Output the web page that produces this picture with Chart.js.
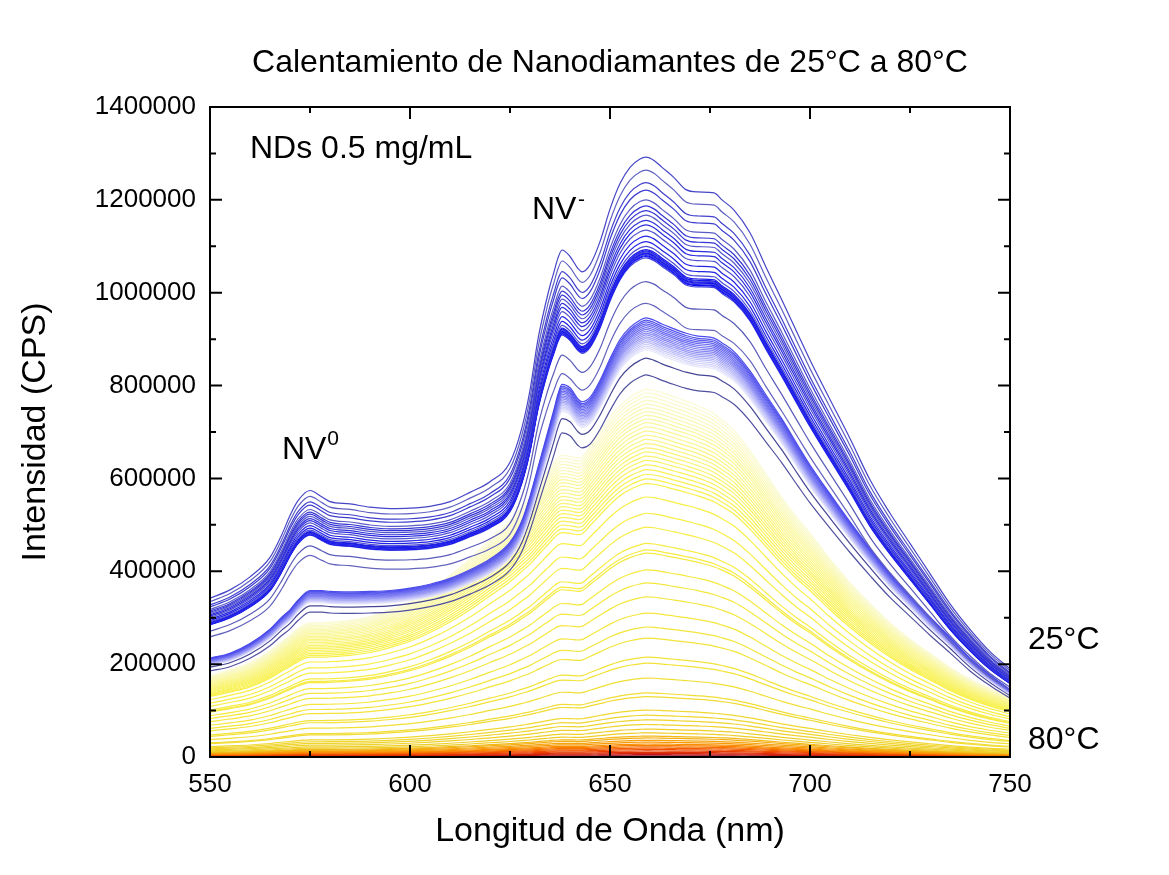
<!DOCTYPE html>
<html lang="es">
<head>
<meta charset="utf-8">
<title>Calentamiento de Nanodiamantes</title>
<script src="https://cdn.jsdelivr.net/npm/chart.js@4.4.1/dist/chart.umd.min.js"></script>
<style>
  html, body { margin: 0; padding: 0; background: #ffffff; }
  canvas { display: block; }
</style>
</head>
<body>
<canvas id="grafico" width="1169" height="875"></canvas>
<script>
// Longitudes de onda (nm) comunes a todos los espectros
const longitudes = [550, 555, 560, 565, 568, 570, 572, 575, 578, 580, 585, 590, 595, 600, 605, 610, 615, 620,
  625, 628, 630, 632, 634, 635, 636, 637, 638, 640, 642, 643, 645, 647.5, 650, 652.5, 655, 657.5, 659, 661,
  663, 666, 669, 672, 676, 678, 681, 685, 689, 693, 697, 700, 705, 710, 715, 720, 725, 730, 735, 740, 745, 750];

// Espectro de referencia de cada familia de curvas (CPS)
const espectroAzul = [342000, 360000, 388000, 430000, 480000, 520000, 552000, 574000, 560000, 550000, 545000,
  538000, 535000, 536000, 540000, 550000, 570000, 593000, 635000, 710000, 790000, 900000, 980000, 1015000,
  1045000, 1075000, 1092000, 1078000, 1052000, 1045000, 1060000, 1110000, 1180000, 1235000, 1270000, 1288000,
  1292000, 1285000, 1270000, 1248000, 1222000, 1217000, 1215000, 1200000, 1178000, 1129000, 1055000, 984000,
  910000, 855000, 770000, 686000, 597000, 525000, 460000, 395000, 330000, 275000, 227000, 190000];

const espectroLavanda = [205000, 215000, 235000, 265000, 290000, 305000, 325000, 345000, 345000, 343000, 342000,
  343000, 345000, 350000, 358000, 370000, 388000, 410000, 445000, 490000, 540000, 600000, 660000, 690000,
  720000, 752000, 772000, 765000, 742000, 736000, 745000, 780000, 825000, 865000, 890000, 905000,
  910000, 905000, 897000, 887000, 878000, 872000, 868000, 858000, 840000, 800000, 750000, 700000,
  645000, 605000, 545000, 487000, 432000, 380000, 335000, 290000, 248000, 205000, 170000, 140000];

const espectroAmarillo = [172000, 185000, 200000, 225000, 245000, 258000, 272000, 285000, 285000, 286000, 290000,
  298000, 312000, 330000, 355000, 385000, 420000, 460000, 500000, 530000, 550000, 575000, 600000, 612000,
  625000, 635000, 640000, 638000, 634000, 636000, 660000, 690000, 720000, 745000, 763000, 775000,
  780000, 778000, 773000, 764000, 755000, 745000, 728000, 715000, 693000, 650000, 600000, 550000,
  505000, 475000, 420000, 370000, 325000, 285000, 250000, 220000, 190000, 165000, 145000, 129000];

// Intensidad en el máximo (~659 nm) de cada medida, de 25°C hacia 80°C
const nivelesAzules = [1292000, 1264000, 1237000, 1221000, 1200000, 1187000, 1177000, 1167000, 1156000, 1146000,
  1135000, 1122000, 1110000, 1100000, 1093000, 1090000, 1088000, 1086000, 1084000, 1082000, 1080000, 1078000, 1075000];
const nivelesMedios = [1024000, 977000];
const nivelesLavanda = [946000, 941000, 937000, 933000, 929000, 925000, 921000, 917000, 913000, 909000,
  905000, 901000, 897000, 893000, 889000, 885000, 881000, 877000];
const nivelesOscuros = [859000, 823000];
const nivelesAmarillos = [792000, 784000, 776000, 768000, 760000, 752000, 744000, 736000, 728000, 720000,
  711000, 702000, 693000, 684000, 675000, 666000, 657000, 648000, 639000, 629000, 619000, 609000, 599000,
  589000, 560000, 525000, 495000, 460000, 446000, 439000, 403000, 375000, 345000, 310000, 280000, 256000,
  215000, 202000, 170000, 138000, 130000, 101000, 90000, 80000, 70000, 60000, 52000];
const nivelesCalientes = [45000, 41000, 36000, 32000, 28000, 25000, 22000, 19000, 16000, 13000, 10000,
  7500, 5000, 2500, 800];

const ticksX = [550, 600, 650, 700, 750];
const ticksMenoresX = [575, 625, 675, 725];
const ticksY = [0, 200000, 400000, 600000, 800000, 1000000, 1200000, 1400000];
const ticksMenoresY = [100000, 300000, 500000, 700000, 900000, 1100000, 1300000];

const fuente = '"Liberation Sans", Arial, Helvetica, sans-serif';

// interpolación de color entre paradas [t, [r,g,b]]
const mezclar = (paradas, t) => {
  for (let i = 1; i < paradas.length; i++) {
    const [t1, c1] = paradas[i];
    const [t0, c0] = paradas[i - 1];
    if (t <= t1) {
      const f = (t - t0) / (t1 - t0 || 1);
      return c0.map((c, k) => Math.round(c + (c1[k] - c) * f));
    }
  }
  return paradas[paradas.length - 1][1];
};

const grupos = [
  { niveles: nivelesAzules, espectro: espectroAzul, variar: true,
    paradas: [[0, [70, 70, 200]], [0.6, [30, 30, 232]], [1, [12, 12, 248]]] },
  { niveles: nivelesMedios, espectro: espectroAzul,
    paradas: [[0, [90, 90, 185]], [1, [100, 100, 190]]] },
  { niveles: nivelesLavanda, espectro: espectroLavanda,
    paradas: [[0, [75, 75, 235]], [0.5, [140, 140, 245]], [1, [232, 232, 252]]] },
  { niveles: nivelesOscuros, espectro: espectroLavanda,
    paradas: [[0, [70, 70, 150]], [1, [80, 80, 160]]] },
  { niveles: nivelesAmarillos, espectro: espectroAmarillo,
    paradas: [[0, [250, 250, 212]], [0.2, [250, 247, 150]], [0.5, [248, 240, 70]], [0.8, [242, 226, 55]], [1, [238, 205, 40]]] },
  { niveles: nivelesCalientes, espectro: espectroAmarillo,
    paradas: [[0, [242, 185, 25]], [0.3, [250, 140, 0]], [0.6, [240, 70, 0]], [0.85, [200, 25, 20]], [1, [80, 20, 130]]] }
];

const datasets = [];
grupos.forEach(g => {
  const pico = Math.max(...g.espectro);
  g.niveles.forEach((nivel, k) => {
    const t = g.niveles.length > 1 ? k / (g.niveles.length - 1) : 0;
    let c = mezclar(g.paradas, t);
    if (g.variar && k % 3 === 1) c = c.map((v, j) => Math.round(v * 0.5 + [125, 125, 190][j] * 0.5));
    datasets.push({
      data: longitudes.map((x, i) => ({ x, y: Math.round(g.espectro[i] * nivel / pico) })),
      borderColor: `rgb(${c[0]}, ${c[1]}, ${c[2]})`,
      borderWidth: 1.2,
      pointRadius: 0,
      cubicInterpolationMode: 'monotone',
      fill: false
    });
  });
});

const marcoYTextos = {
  id: 'marcoYTextos',
  afterDraw(chart) {
    const { ctx, chartArea: a, scales: { x, y } } = chart;
    ctx.save();
    ctx.strokeStyle = '#000';
    ctx.lineWidth = 2;
    ctx.strokeRect(a.left, a.top, a.right - a.left, a.bottom - a.top);

    ctx.beginPath();
    const marcaX = (v, largo) => {
      const px = x.getPixelForValue(v);
      ctx.moveTo(px, a.bottom); ctx.lineTo(px, a.bottom - largo);
      ctx.moveTo(px, a.top); ctx.lineTo(px, a.top + largo);
    };
    const marcaY = (v, largo) => {
      const py = y.getPixelForValue(v);
      ctx.moveTo(a.left, py); ctx.lineTo(a.left + largo, py);
      ctx.moveTo(a.right, py); ctx.lineTo(a.right - largo, py);
    };
    ticksX.forEach(v => marcaX(v, 12));
    ticksMenoresX.forEach(v => marcaX(v, 6));
    ticksY.forEach(v => marcaY(v, 12));
    ticksMenoresY.forEach(v => marcaY(v, 6));
    ctx.stroke();

    ctx.fillStyle = '#000';
    ctx.textBaseline = 'middle';
    ctx.textAlign = 'center';
    ctx.font = `32px ${fuente}`;
    ctx.fillText('Calentamiento de Nanodiamantes de 25°C a 80°C', (a.left + a.right) / 2, 63);

    ctx.textAlign = 'left';
    ctx.fillText('NDs 0.5 mg/mL', x.getPixelForValue(560), y.getPixelForValue(1310000));
    ctx.fillText('NV', x.getPixelForValue(568), y.getPixelForValue(660000));
    ctx.fillText('NV', x.getPixelForValue(630.5), y.getPixelForValue(1177000));
    ctx.fillText('25°C', x.getPixelForValue(754.5), y.getPixelForValue(252000));
    ctx.fillText('80°C', x.getPixelForValue(754.5), y.getPixelForValue(37000));

    ctx.font = `21px ${fuente}`;
    ctx.fillText('0', x.getPixelForValue(579.3), y.getPixelForValue(684000));
    ctx.fillText('-', x.getPixelForValue(642), y.getPixelForValue(1200000));
    ctx.restore();
  }
};

new Chart(document.getElementById('grafico'), {
  type: 'line',
  data: { datasets },
  options: {
    responsive: false,
    animation: false,
    devicePixelRatio: 1,
    layout: { padding: { top: 107, right: 159, bottom: 0, left: 0 } },
    plugins: { legend: { display: false }, tooltip: { enabled: false } },
    scales: {
      x: {
        type: 'linear', min: 550, max: 750,
        afterFit: s => { s.height = 118; },
        afterBuildTicks: s => { s.ticks = ticksX.map(v => ({ value: v })); },
        grid: { display: false, drawTicks: false },
        border: { display: false },
        ticks: { font: { family: fuente, size: 26 }, color: '#000', padding: 12, autoSkip: false, maxRotation: 0 },
        title: { display: true, text: 'Longitud de Onda (nm)', color: '#000',
          font: { family: fuente, size: 34 }, padding: { top: 0, bottom: 23 } }
      },
      y: {
        type: 'linear', min: 0, max: 1400000,
        afterFit: s => { s.width = 210; },
        afterBuildTicks: s => { s.ticks = ticksY.map(v => ({ value: v })); },
        grid: { display: false, drawTicks: false },
        border: { display: false },
        ticks: { font: { family: fuente, size: 26 }, color: '#000', padding: 14, autoSkip: false,
          callback: v => String(v) },
        title: { display: true, text: 'Intensidad (CPS)', color: '#000',
          font: { family: fuente, size: 34 }, padding: { top: 15, bottom: 0 } }
      }
    }
  },
  plugins: [marcoYTextos]
});
</script>
</body>
</html>
